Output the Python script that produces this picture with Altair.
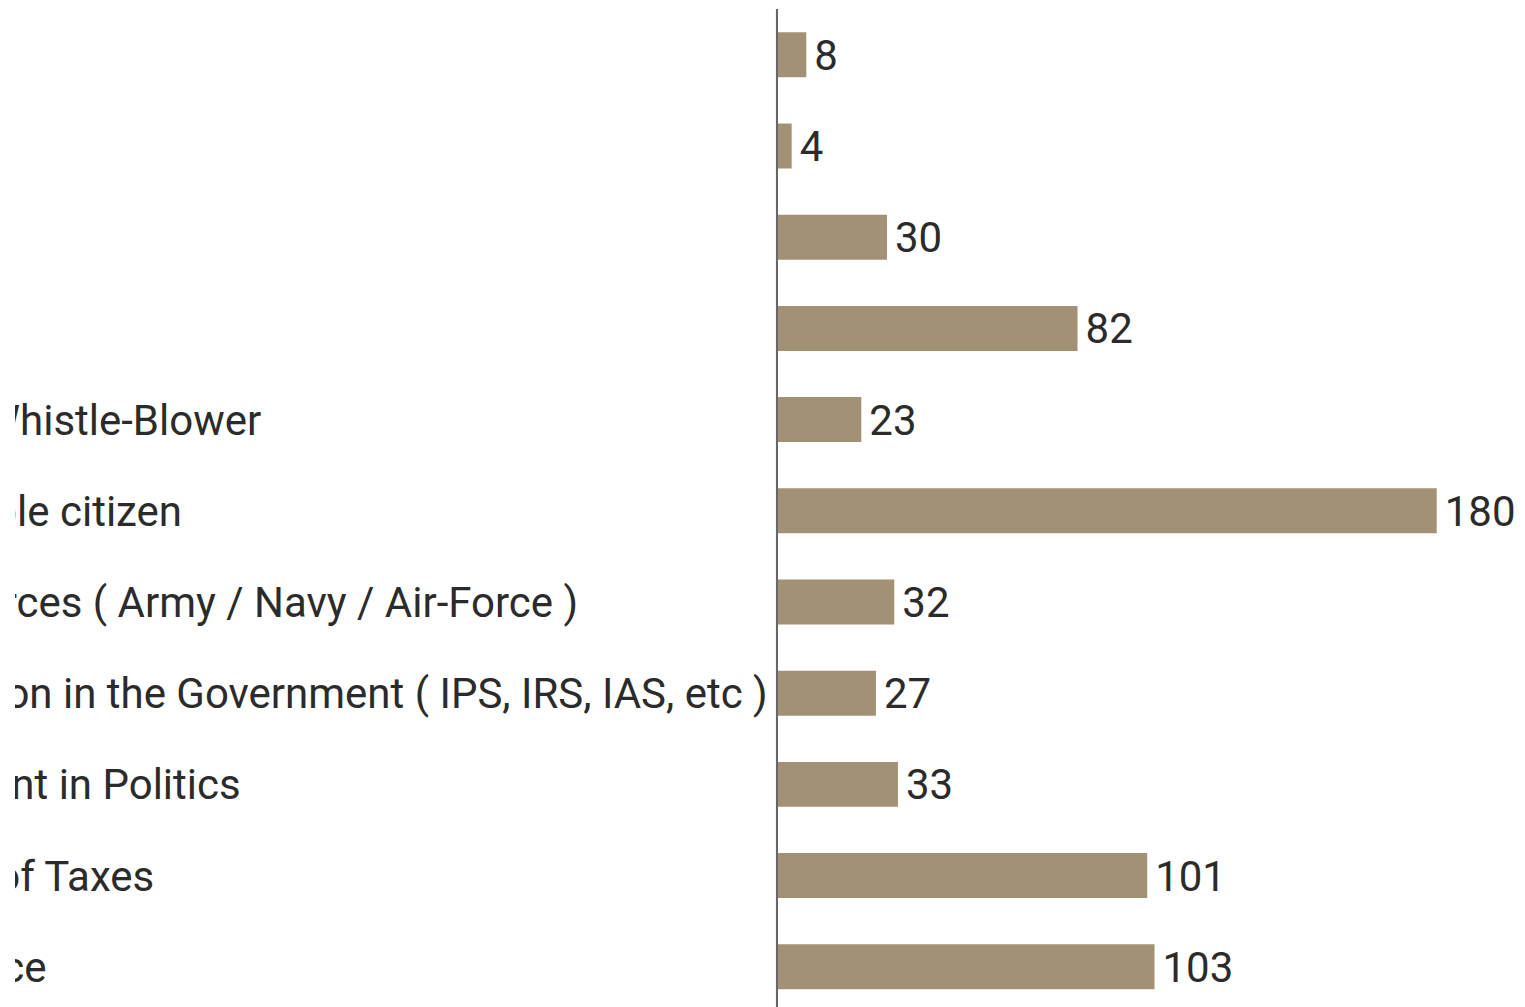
import altair as alt
import pandas as pd

# Categories (top to bottom) and values
categories = [
    "Others",
    "None",
    "Sports",
    "Teaching",
    "Act as a Whistle-Blower",
    "Responsible citizen",
    "Armed Forces ( Army / Navy / Air-Force )",
    "Top position in the Government ( IPS, IRS, IAS, etc )",
    "Involvement in Politics",
    "Payment of Taxes",
    "Civil Service",
]
values = [8, 4, 30, 82, 23, 180, 32, 27, 33, 101, 103]

df = pd.DataFrame({"category": categories, "value": values})

FONT = "Roboto"
BAR_COLOR = "#A39175"
TEXT_COLOR = "#2b2b2b"
FS = 42

y_enc = alt.Y(
    "category:N",
    sort=categories,
    scale=alt.Scale(paddingInner=0.507, paddingOuter=0.2535, range=[0, 1003.2]),
    axis=None,
)
x_scale = alt.Scale(domain=[-207.9, 201.9], nice=False, zero=False)

base = alt.Chart(df)

bars = base.mark_bar(color=BAR_COLOR).encode(
    x=alt.X("value:Q", scale=x_scale, axis=None),
    x2=alt.datum(0),
    y=y_enc,
)

rule = base.mark_rule(color="#666666", strokeWidth=2).encode(
    x=alt.X("zero:Q", scale=x_scale, axis=None)
).transform_calculate(zero="0")

values_text = base.mark_text(
    align="left", baseline="middle", dx=8, dy=2, fontSize=FS, font=FONT, color=TEXT_COLOR
).encode(
    x=alt.X("value:Q", scale=x_scale, axis=None),
    y=y_enc,
    text=alt.Text("value:Q"),
)

labels_text = base.mark_text(
    align="left", baseline="middle", dy=2, fontSize=FS, font=FONT, color=TEXT_COLOR, clip=True
).encode(
    x=alt.X("lx:Q", scale=x_scale, axis=None),
    y=y_enc,
    text="category:N",
).transform_calculate(lx="-260.8")

chart = (
    alt.layer(bars, labels_text, values_text, rule)
    .properties(
        width=1502,
        height=1003.2,
        autosize=alt.AutoSizeParams(type="none"),
        padding={"left": 7, "top": 1.2, "right": 0, "bottom": 0},
    )
    .configure_view(stroke=None)
)

chart.save("out.html", embed_options={"renderer": "svg", "actions": False})
